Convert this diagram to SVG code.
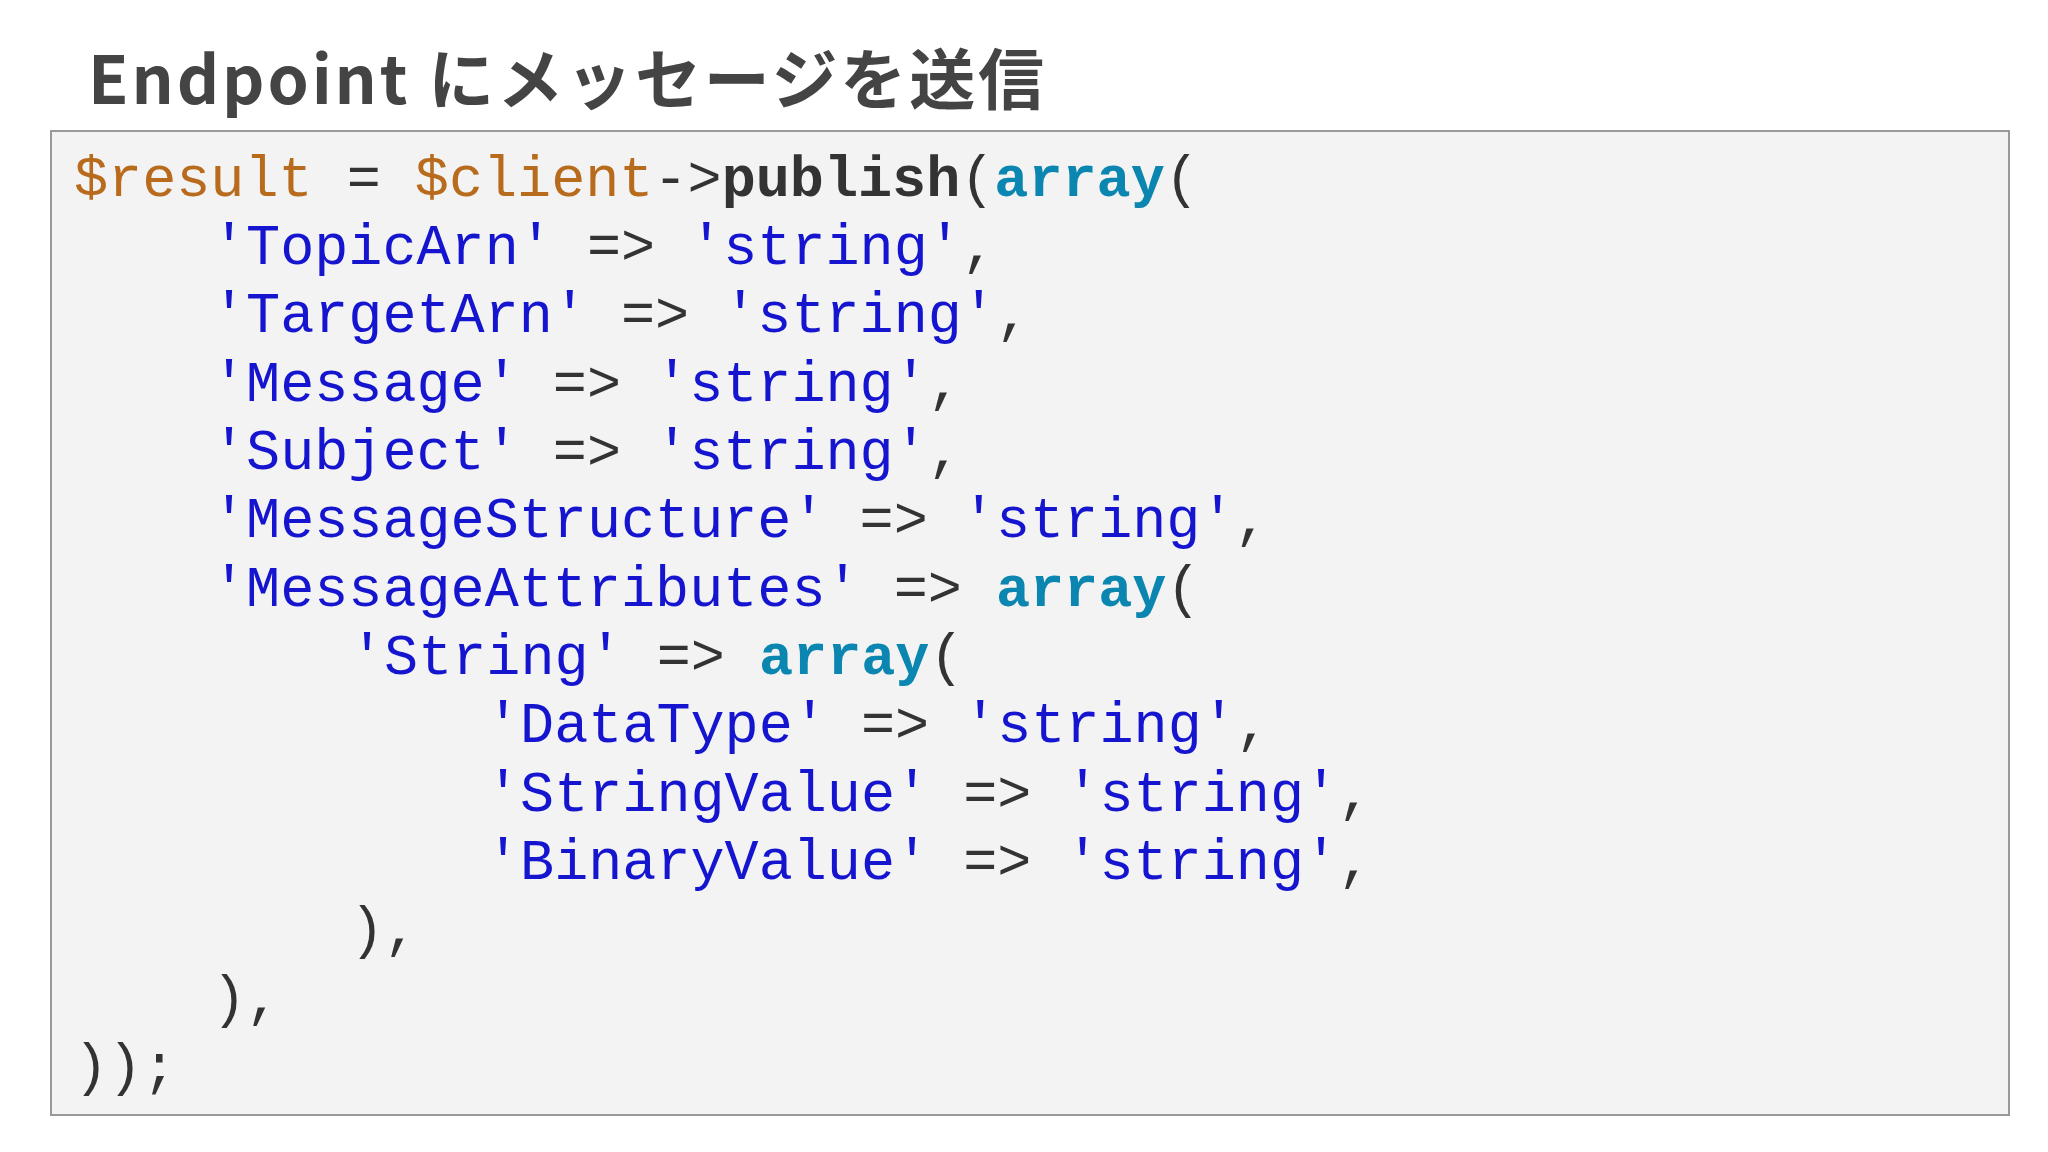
<svg xmlns="http://www.w3.org/2000/svg" width="2048" height="1152" viewBox="0 0 2048 1152">
<style>
.t{font-family:"Noto Sans CJK JP","Noto Sans",sans-serif;font-weight:bold;font-size:66px;fill:#444}
.c{font-family:"Liberation Mono",monospace;font-size:56.8px;fill:#333;white-space:pre}
.v{fill:#b86b1c}.s{fill:#1515d0}.a{fill:#0a86b0;font-weight:bold}.f{font-weight:bold;fill:#333}
</style>
<rect width="2048" height="1152" fill="#fff"/>
<g id="title"><text class="t" x="88" y="104" textLength="956" lengthAdjust="spacing">Endpoint にメッセージを送信</text></g>
<g id="code">
<rect x="51" y="131" width="1958" height="984" fill="#f3f3f3" stroke="#999" stroke-width="2"/>
<text class="c" xml:space="preserve" x="74" y="196"><tspan class="v">$result</tspan> = <tspan class="v">$client</tspan>-&gt;<tspan class="f">publish</tspan>(<tspan class="a">array</tspan>(</text>
<text class="c" xml:space="preserve" x="212" y="264"><tspan class="s">'TopicArn'</tspan> =&gt; <tspan class="s">'string'</tspan>,</text>
<text class="c" xml:space="preserve" x="212" y="332"><tspan class="s">'TargetArn'</tspan> =&gt; <tspan class="s">'string'</tspan>,</text>
<text class="c" xml:space="preserve" x="212" y="401"><tspan class="s">'Message'</tspan> =&gt; <tspan class="s">'string'</tspan>,</text>
<text class="c" xml:space="preserve" x="212" y="469"><tspan class="s">'Subject'</tspan> =&gt; <tspan class="s">'string'</tspan>,</text>
<text class="c" xml:space="preserve" x="212" y="537"><tspan class="s">'MessageStructure'</tspan> =&gt; <tspan class="s">'string'</tspan>,</text>
<text class="c" xml:space="preserve" x="212" y="606"><tspan class="s">'MessageAttributes'</tspan> =&gt; <tspan class="a">array</tspan>(</text>
<text class="c" xml:space="preserve" x="350" y="674"><tspan class="s">'String'</tspan> =&gt; <tspan class="a">array</tspan>(</text>
<text class="c" xml:space="preserve" x="486" y="742"><tspan class="s">'DataType'</tspan> =&gt; <tspan class="s">'string'</tspan>,</text>
<text class="c" xml:space="preserve" x="486" y="811"><tspan class="s">'StringValue'</tspan> =&gt; <tspan class="s">'string'</tspan>,</text>
<text class="c" xml:space="preserve" x="486" y="879"><tspan class="s">'BinaryValue'</tspan> =&gt; <tspan class="s">'string'</tspan>,</text>
<text class="c" xml:space="preserve" x="350" y="947">),</text>
<text class="c" xml:space="preserve" x="212" y="1016">),</text>
<text class="c" xml:space="preserve" x="74" y="1084">));</text>
</g>
</svg>
